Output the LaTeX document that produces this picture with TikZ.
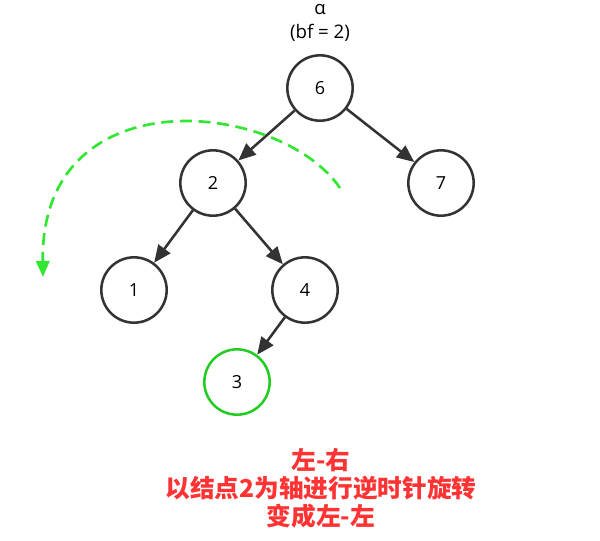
\documentclass[tikz,border=0pt]{standalone}
\usepackage{fontspec}
\setmainfont{Open Sans}
\newfontfamily\cjk{Noto Sans CJK SC}
\usetikzlibrary{arrows.meta}
\definecolor{dark}{HTML}{333333}
\definecolor{grn}{HTML}{22CC22}
\definecolor{dgrn}{HTML}{33E633}
\definecolor{redtxt}{HTML}{FF3333}
\begin{document}
\begin{tikzpicture}[x=0.75pt,y=-0.75pt,
  tnode/.style={circle,draw=dark,line width=1.9pt,minimum size=49pt,inner sep=0pt,font=\fontsize{13.5}{16}\selectfont,fill=white},
  gnode/.style={tnode,draw=grn},
  edge/.style={draw=dark,line width=1.9pt,-{Triangle[length=13pt,width=11pt]}},
  rot/.style={draw=dgrn,line width=2pt,dash pattern=on 9pt off 5pt,-{Triangle[length=12pt,width=10pt]}},
  note/.style={text=redtxt,font=\cjk\bfseries\fontsize{18.5}{21}\selectfont,align=center}]
\useasboundingbox (0,0) rectangle (600,540);
\node[font=\fontsize{14}{16}\selectfont] (alpha) at (320,10) {α};
\node[font=\fontsize{14}{16}\selectfont] (bf) at (320,33) {(bf = 2)};
\node[tnode] (n6) at (320,88) {6};
\node[tnode] (n2) at (213,183) {2};
\node[tnode] (n7) at (441,183) {7};
\node[tnode] (n1) at (134,290) {1};
\node[tnode] (n4) at (305,290) {4};
\node[gnode] (n3) at (237,382) {3};
\draw[edge] (n6) -- (n2);
\draw[edge] (n6) -- (n7);
\draw[edge] (n2) -- (n1);
\draw[edge] (n2) -- (n4);
\draw[edge] (n4) -- (n3);
\coordinate (rs) at (340,188);
\coordinate (re) at (43,277);
\draw[rot] (rs) .. controls (280,100) and (40,75) .. (re);
\node[note] (txt) at (321,488) {左-右\\以结点2为轴进行逆时针旋转\\变成左-左};
\end{tikzpicture}
\end{document}
